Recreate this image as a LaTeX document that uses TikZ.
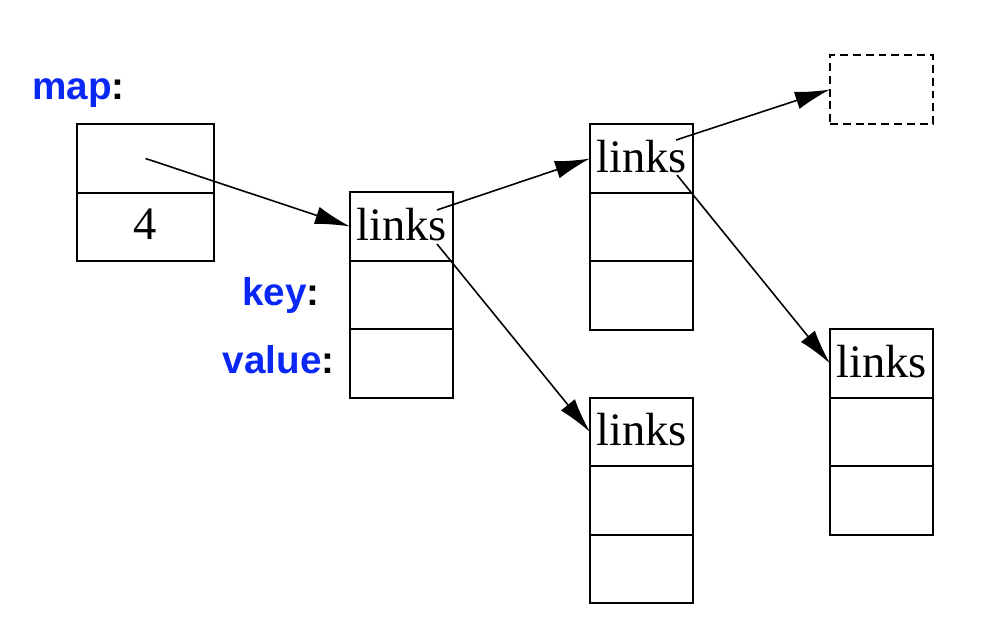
\documentclass[tikz,border=0pt]{standalone}
\usepackage{fontspec}
\setmainfont{Liberation Serif}
\setsansfont{Liberation Sans}
\usetikzlibrary{arrows.meta}
\definecolor{lblblue}{RGB}{10,40,245}
\tikzset{
  cell/.style={draw, line width=1pt, inner sep=0pt, outer sep=0pt,
    minimum width=2.06cm, minimum height=1.37cm,
    font=\fontsize{26.5}{30}\selectfont, text depth=0.3em},
  wcell/.style={cell, minimum width=2.74cm},
  ghost/.style={cell, dash pattern=on 4.5pt off 2.8pt},
  lbl/.style={font=\sffamily\bfseries\fontsize{22}{26}\selectfont, inner sep=0pt},
  ptr/.style={line width=0.9pt, -{Latex[length=0.7cm, width=0.36cm]}}
}
\newcommand{\lb}[1]{\textcolor{lblblue}{#1}:}
\begin{document}
\begin{tikzpicture}[x=0.02cm, y=-0.02cm]
\useasboundingbox (0,0) rectangle (984,636);
% map box
\node[wcell] (m1) at (145.5,158.5) {};
\node[wcell] (m2) at (145.5,227) {4};
\node[lbl, anchor=base west] (mapl) at (32,99) {\lb{map}};
% box A
\node[cell] (a1) at (401.5,226.5) {links};
\node[cell] (a2) at (401.5,295) {};
\node[cell] (a3) at (401.5,363.5) {};
\node[lbl, anchor=base east] (keyl) at (320,305) {\lb{key}};
\node[lbl, anchor=base east] (vall) at (335,373) {\lb{value}};
% box B
\node[cell] (b1) at (641.5,158.5) {links};
\node[cell] (b2) at (641.5,227) {};
\node[cell] (b3) at (641.5,295.5) {};
% box C
\node[cell] (c1) at (641.5,432) {links};
\node[cell] (c2) at (641.5,500.5) {};
\node[cell] (c3) at (641.5,569) {};
% box D
\node[cell] (d1) at (881.5,363.5) {links};
\node[cell] (d2) at (881.5,432) {};
\node[cell] (d3) at (881.5,500.5) {};
% dashed
\node[ghost] (g) at (881.5,89.5) {};
% pointer origins
\coordinate (as1) at (437,210);
\coordinate (as2) at (437,244);
\coordinate (bs1) at (676,140);
\coordinate (bs2) at (677,175);
% arrows
\draw[ptr] (m1.center) -- (a1.west);
\draw[ptr] (as1) -- (b1.west);
\draw[ptr] (as2) -- (c1.west);
\draw[ptr] (bs1) -- (g.west);
\draw[ptr] (bs2) -- (d1.west);
\end{tikzpicture}
\end{document}
